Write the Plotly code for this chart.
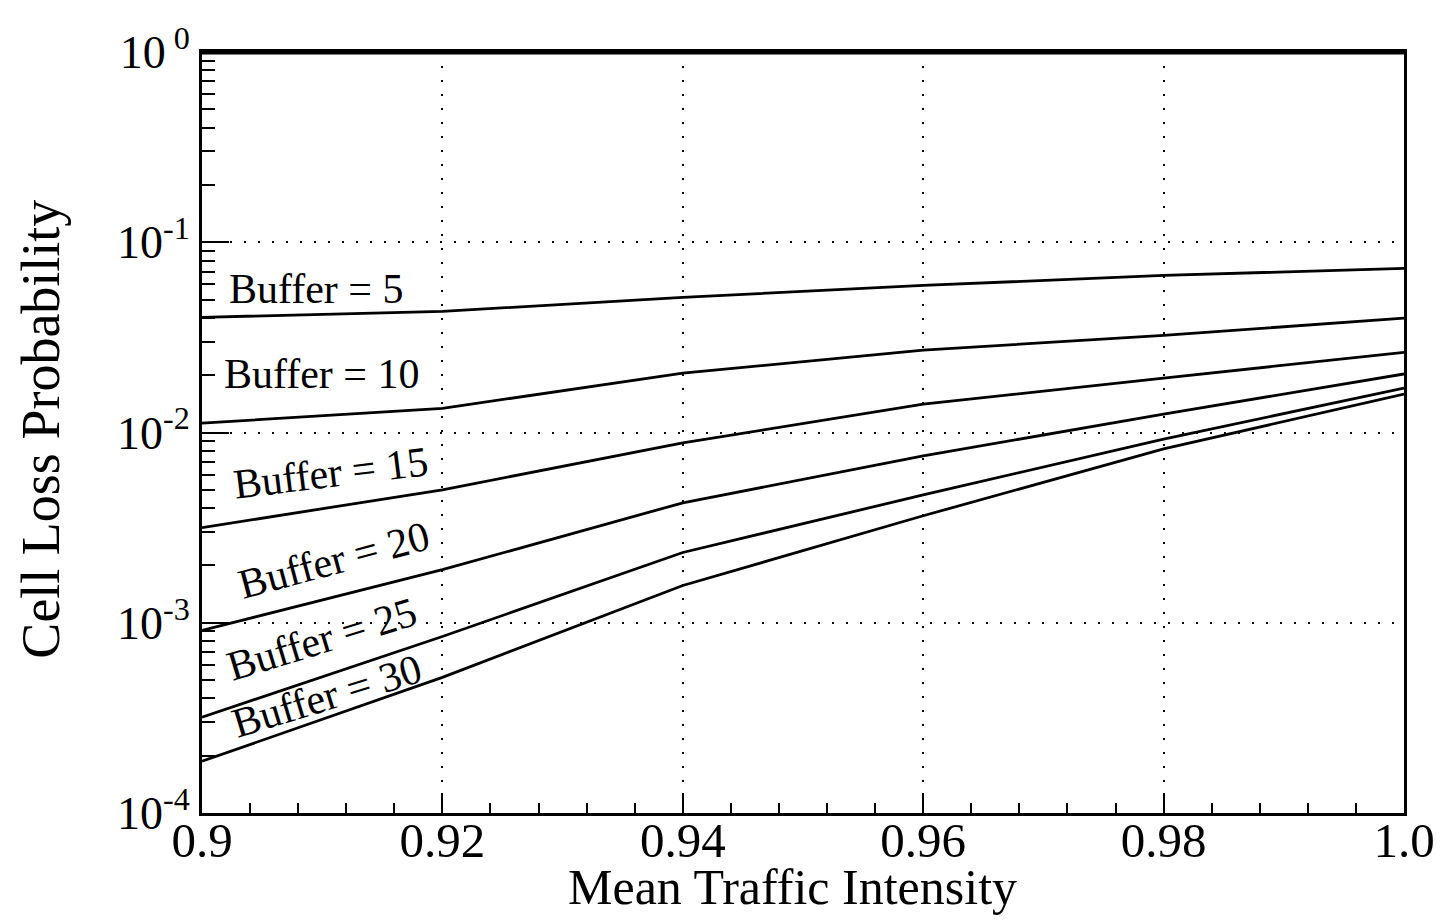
import plotly.graph_objects as go

# ---- data ----
intensity = [0.90, 0.92, 0.94, 0.96, 0.98, 1.00]

buffer_5 = [0.0403, 0.0433, 0.0513, 0.0593, 0.0669, 0.0729]
buffer_10 = [0.0112, 0.0134, 0.0205, 0.0271, 0.0324, 0.0399]
buffer_15 = [0.00316, 0.00500, 0.00881, 0.0141, 0.0193, 0.0264]
buffer_20 = [0.000911, 0.00190, 0.00427, 0.00753, 0.0125, 0.0203]
buffer_25 = [0.000319, 0.000847, 0.00234, 0.00470, 0.00924, 0.0171]
buffer_30 = [0.000187, 0.000516, 0.00157, 0.00365, 0.00820, 0.0159]

series_names = ["Buffer = 5", "Buffer = 10", "Buffer = 15",
                "Buffer = 20", "Buffer = 25", "Buffer = 30"]
series_values = [buffer_5, buffer_10, buffer_15, buffer_20, buffer_25, buffer_30]

x_tick_values = [0.90, 0.92, 0.94, 0.96, 0.98, 1.00]
x_tick_labels = ["0.9", "0.92", "0.94", "0.96", "0.98", "1.0"]
y_tick_values = [1e-4, 1e-3, 1e-2, 1e-1, 1e0]
y_tick_labels = ["10<sup>-4</sup>", "10<sup>-3</sup>", "10<sup>-2</sup>",
                 "10<sup>-1</sup>", "10<sup>\u00a00</sup>"]

x_title = "Mean Traffic Intensity"
y_title = "Cell Loss Probability"

# ---- figure ----
FONT = "Liberation Serif, Times New Roman, serif"
fig = go.Figure()

for name, vals in zip(series_names, series_values):
    fig.add_trace(go.Scatter(
        x=intensity, y=vals, mode="lines", name=name,
        line=dict(color="black", width=2.8),
        showlegend=False, hoverinfo="x+y+name",
    ))

# label placement (x in data units, y in log10 units) and rotation
label_pos = [
    (0.9095, -1.248, 0),
    (0.9100, -1.693, 0),
    (0.9107, -2.215, -7),
    (0.9110, -2.668, -15),
    (0.9100, -3.085, -17),
    (0.9104, -3.385, -17),
]
for name, (lx, ly, ang) in zip(series_names, label_pos):
    fig.add_annotation(
        x=lx, y=ly, xref="x", yref="y", text=name, showarrow=False,
        textangle=ang, font=dict(family=FONT, size=42, color="black"),
        xanchor="center", yanchor="middle",
    )

# axis titles
fig.add_annotation(x=0.491, y=-0.097, xref="paper", yref="paper", text=x_title,
                   showarrow=False, xanchor="center", yanchor="middle",
                   font=dict(family=FONT, size=50, color="black"))
fig.add_annotation(x=-0.134, y=0.505, xref="paper", yref="paper", text=y_title,
                   showarrow=False, textangle=-90, xanchor="center",
                   yanchor="middle",
                   font=dict(family=FONT, size=54, color="black"))

minor_x = [0.9 + 0.004 * i for i in range(1, 25) if i % 5 != 0]
minor_y = [m * 10.0 ** e for e in range(-4, 0) for m in range(2, 10)]

fig.update_xaxes(
    range=[0.9, 1.0],
    tickvals=x_tick_values, ticktext=x_tick_labels,
    ticks="inside", ticklen=20, tickwidth=2, tickcolor="black",
    showline=True, linecolor="black", linewidth=3, mirror=True,
    showgrid=True, gridcolor="black", gridwidth=2, griddash="2px,12px",
    zeroline=False,
    tickfont=dict(family=FONT, size=49, color="black"),
    ticklabelstandoff=-18,
    minor=dict(tickvals=minor_x, ticks="inside", ticklen=10, tickwidth=2,
               tickcolor="black", showgrid=False),
)
fig.update_yaxes(
    type="log", range=[-4, 0],
    tickvals=y_tick_values, ticktext=y_tick_labels,
    ticks="inside", ticklen=27, tickwidth=2, tickcolor="black",
    showline=True, linecolor="black", linewidth=3, mirror=True,
    showgrid=True, gridcolor="black", gridwidth=2, griddash="2px,12px",
    zeroline=False,
    tickfont=dict(family=FONT, size=46, color="black"),
    ticklabelstandoff=0,
    minor=dict(tickvals=minor_y, ticks="inside", ticklen=13, tickwidth=2,
               tickcolor="black", showgrid=False),
)

# thicker top frame edge, as in the reference
fig.add_shape(type="line", xref="paper", yref="paper", x0=0, x1=1, y0=1, y1=1,
              line=dict(color="black", width=5))

fig.update_layout(
    width=1456, height=923,
    margin=dict(l=194, r=60, t=38, b=118),
    paper_bgcolor="white", plot_bgcolor="white",
    font=dict(family=FONT, color="black"),
)

fig.write_html("out.html")
